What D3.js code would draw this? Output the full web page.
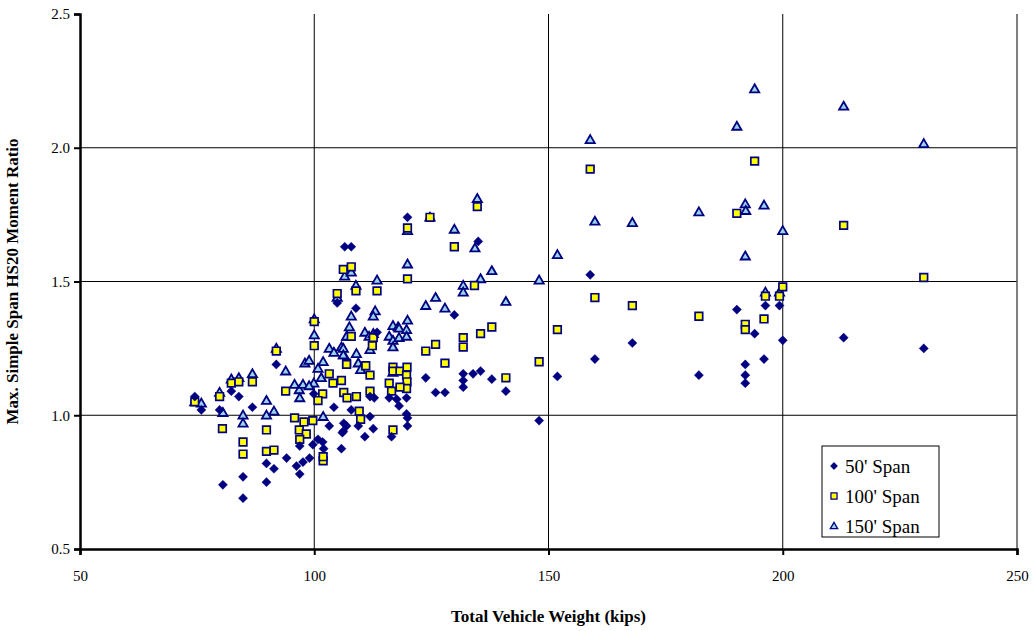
<!DOCTYPE html>
<html>
<head>
<meta charset="utf-8">
<script src="https://cdn.jsdelivr.net/npm/d3@7"></script>
<style>
  body { margin: 0; background: #fff; }
  text { font-family: "Liberation Serif", "Times New Roman", serif; }
</style>
</head>
<body>
<div id="vis"></div>
<script>
// series data: [total vehicle weight (kips), moment ratio]
var span50 = [
  [74.5,1.07],[75.9,1.02],[79.8,1.02],[82.3,1.09],[83.9,1.07],[86.8,1.03],[91.9,1.19],[89.8,0.82],[91.4,0.80],
  [84.8,0.77],[80.5,0.74],[89.8,0.75],[84.8,0.69],
  [99.9,1.08],[104.2,1.03],[103.2,0.96],[106.3,0.97],[106.0,0.935],[100.8,0.91],[101.8,0.90],[102.0,0.875],
  [99.7,0.89],[105.8,0.875],[96.9,0.885],[99.0,0.84],[97.6,0.825],[96.2,0.81],[94.1,0.84],[96.9,0.78],
  [106.5,1.63],[107.9,1.63],[104.9,1.42],[108.9,1.40],[119.9,1.74],[113.4,1.31],
  [123.8,1.14],[111.9,1.07],[112.8,1.065],[116.0,1.065],[117.6,1.06],[119.7,1.065],[118.1,1.035],[107.9,1.02],
  [109.4,0.96],[106.9,0.96],[111.9,0.995],[112.6,0.95],[110.8,0.92],[106.2,0.94],[119.7,1.005],[119.9,0.99],
  [119.9,0.96],[116.5,0.92],
  [135.0,1.65],[129.9,1.375],[131.8,1.155],[131.8,1.13],[131.8,1.105],[133.9,1.155],[135.5,1.165],[137.9,1.135],
  [125.9,1.085],[127.9,1.085],[140.9,1.09],[148.0,0.98],
  [158.9,1.525],[167.9,1.27],[159.9,1.21],[151.9,1.145],
  [190.2,1.395],[196.3,1.41],[199.3,1.41],[194.0,1.305],[200.0,1.28],[192.0,1.19],[196.0,1.21],[192.0,1.15],
  [192.0,1.12],[182.1,1.15],
  [213.0,1.29],[230.1,1.25]
];
var span100 = [
  [74.5,1.05],[82.3,1.12],[83.9,1.125],[86.8,1.125],[79.8,1.07],[80.4,0.95],[89.8,0.945],[84.8,0.90],[84.8,0.855],
  [89.8,0.865],[91.4,0.87],[91.9,1.24],
  [100.0,1.35],[100.0,1.26],[103.2,1.155],[104.0,1.12],[105.8,1.13],[106.9,1.195],[106.3,1.085],[107.0,1.065],
  [101.8,1.08],[100.8,1.055],[93.9,1.09],
  [95.8,0.99],[97.8,0.975],[99.7,0.98],[96.8,0.945],[98.3,0.93],[96.9,0.91],[101.9,0.83],[101.9,0.845],
  [106.2,1.545],[107.9,1.555],[104.9,1.455],[108.9,1.465],[113.4,1.465],[119.9,1.70],[124.7,1.74],[119.9,1.51],
  [107.9,1.295],[112.6,1.29],[112.4,1.26],[106.9,1.19],[111.0,1.185],[111.9,1.15],[109.0,1.07],[111.9,1.09],
  [116.8,1.18],[116.8,1.165],[118.3,1.165],[119.8,1.18],[119.7,1.15],[119.8,1.125],[119.7,1.10],[116.0,1.12],
  [116.5,1.09],[118.3,1.105],[123.8,1.24],[109.6,1.015],[109.9,0.985],[116.8,0.945],
  [134.8,1.78],[129.9,1.63],[134.2,1.485],[137.9,1.33],[135.5,1.305],[131.8,1.29],[131.8,1.255],[125.9,1.265],
  [127.9,1.195],[148.0,1.20],[140.9,1.14],
  [158.9,1.92],[159.9,1.44],[167.9,1.41],[151.9,1.32],
  [194.0,1.95],[190.2,1.755],[200.0,1.48],[196.3,1.445],[199.3,1.445],[182.1,1.37],[192.0,1.34],[192.0,1.32],
  [196.0,1.36],
  [213.0,1.71],[230.1,1.515]
];
var span150 = [
  [74.5,1.05],[75.9,1.045],[79.8,1.085],[80.5,1.01],[82.3,1.135],[83.9,1.14],[86.8,1.155],[89.8,1.055],[89.8,1.0],
  [91.4,1.015],[84.8,1.0],[84.8,0.97],[91.9,1.25],
  [100.0,1.36],[100.0,1.30],[93.9,1.165],[98.0,1.195],[98.9,1.205],[101.9,1.20],[103.2,1.25],[104.2,1.235],
  [105.8,1.255],[106.3,1.225],[107.0,1.295],[100.8,1.175],[99.9,1.12],[101.5,1.14],[95.8,1.115],[96.8,1.095],
  [97.6,1.115],[96.9,1.065],[98.9,1.11],[101.9,0.995],
  [106.5,1.52],[107.9,1.535],[104.9,1.44],[108.9,1.485],[113.4,1.505],[119.9,1.69],[124.7,1.74],[119.9,1.565],
  [123.8,1.41],[107.9,1.37],[113.0,1.39],[112.6,1.37],[116.8,1.335],[117.9,1.33],[119.9,1.355],[107.5,1.33],
  [106.9,1.295],[110.8,1.31],[111.7,1.295],[112.6,1.305],[111.9,1.245],[109.0,1.23],[109.4,1.195],[109.9,1.17],
  [106.2,1.25],[106.2,1.225],[118.1,1.325],[119.7,1.32],[116.0,1.295],[116.8,1.28],[118.1,1.29],[119.7,1.295],
  [116.8,1.255],[116.8,1.16],
  [134.8,1.81],[129.9,1.695],[134.3,1.625],[137.9,1.54],[135.5,1.51],[148.0,1.505],[131.8,1.485],[131.8,1.46],
  [125.9,1.44],[127.9,1.40],[140.9,1.425],
  [158.9,2.03],[159.9,1.725],[167.9,1.72],[151.9,1.60],
  [194.0,2.22],[190.2,2.08],[192.0,1.79],[192.1,1.765],[196.0,1.785],[182.1,1.76],[200.0,1.69],[192.0,1.595],
  [196.3,1.46],[199.3,1.46],
  [213.0,2.155],[230.1,2.015]
];

var xTicks = [50, 100, 150, 200, 250];
var yTicks = [0.5, 1.0, 1.5, 2.0, 2.5];
var legendLabels = ["50' Span", "100' Span", "150' Span"];

var margin = {top: 14, right: 19, bottom: 82, left: 80};
var W = 1036, H = 631;
var width = W - margin.left - margin.right;
var height = H - margin.top - margin.bottom;

var x = d3.scaleLinear().domain([50, 250]).range([0, width]);
var y = d3.scaleLinear().domain([0.5, 2.5]).range([height, 0]);

var svg = d3.select("#vis").append("svg")
    .attr("width", W)
    .attr("height", H)
  .append("g")
    .attr("transform", "translate(" + margin.left + "," + margin.top + ")");

// gridlines
svg.append("g").selectAll("line")
  .data(xTicks.slice(1, -1))
  .enter().append("line")
    .attr("x1", function(d) { return x(d); })
    .attr("x2", function(d) { return x(d); })
    .attr("y1", 0).attr("y2", height)
    .attr("stroke", "#000").attr("stroke-width", 1);
svg.append("g").selectAll("line")
  .data(yTicks.slice(1, -1))
  .enter().append("line")
    .attr("y1", function(d) { return y(d); })
    .attr("y2", function(d) { return y(d); })
    .attr("x1", 0).attr("x2", width)
    .attr("stroke", "#000").attr("stroke-width", 1);

// right border
svg.append("line")
  .attr("x1", width).attr("x2", width)
  .attr("y1", 0).attr("y2", height)
  .attr("stroke", "#555").attr("stroke-width", 1.5);

// axes
var xAxis = svg.append("g")
    .attr("transform", "translate(0," + height + ")")
    .call(d3.axisBottom(x).tickValues(xTicks).tickSize(6).tickPadding(15).tickFormat(d3.format("d")));
var yAxis = svg.append("g")
    .call(d3.axisLeft(y).tickValues(yTicks).tickSize(6).tickPadding(4).tickFormat(d3.format(".1f")));
[xAxis, yAxis].forEach(function(a) {
  a.select(".domain").attr("stroke", "#000").attr("stroke-width", 2.5);
  a.selectAll(".tick line").attr("stroke", "#000").attr("stroke-width", 2);
  a.selectAll("text").attr("font-size", 15).attr("font-family", "Liberation Serif").attr("fill", "#000");
});

// markers (custom shapes, Excel-like)
function diamond() { return "M0,-4.6L4.6,0L0,4.6L-4.6,0Z"; }
function square() { return "M-3.8,-3.8H3.8V3.8H-3.8Z"; }
function triangle() { return "M0,-4.6L4.6,3.4H-4.6Z"; }

function plot(data, sym, fill, stroke, sw) {
  svg.append("g").selectAll("path")
    .data(data)
    .enter().append("path")
      .attr("d", sym)
      .attr("transform", function(d) { return "translate(" + x(d[0]) + "," + y(d[1]) + ")"; })
      .attr("fill", fill)
      .attr("stroke", stroke)
      .attr("stroke-width", sw)
      .attr("stroke-linejoin", "miter");
}
plot(span150, triangle, "#99d3e8", "#000080", 1.8);
plot(span100, square, "#ffff00", "#000080", 1.7);
plot(span50, diamond, "#000080", "#000080", 0.4);

// legend
var lg = svg.append("g").attr("transform", "translate(" + (822 - margin.left) + "," + (446 - margin.top) + ")");
lg.append("rect").attr("width", 117).attr("height", 91)
  .attr("fill", "#fff").attr("stroke", "#000").attr("stroke-width", 1);
var syms = [
  {s: diamond, f: "#000080", w: 0.4},
  {s: square, f: "#ffff00", w: 1.6},
  {s: triangle, f: "#99d3e8", w: 1.6}
];
legendLabels.forEach(function(t, i) {
  var cy = 20 + i * 30;
  lg.append("path").attr("d", syms[i].s)
    .attr("transform", "translate(12," + cy + ") scale(0.8)")
    .attr("fill", syms[i].f).attr("stroke", "#000080").attr("stroke-width", syms[i].w);
  lg.append("text").attr("x", 23).attr("y", cy + 7)
    .attr("font-size", 19).text(t);
});

// axis titles
svg.append("text")
  .attr("x", width / 2).attr("y", height + 73)
  .attr("text-anchor", "middle")
  .attr("font-size", 17).attr("font-weight", "bold")
  .text("Total Vehicle Weight (kips)");
svg.append("text")
  .attr("transform", "translate(" + (-62) + "," + (height / 2) + ") rotate(-90)")
  .attr("text-anchor", "middle")
  .attr("font-size", 17).attr("font-weight", "bold")
  .text("Max. Simple Span HS20 Moment Ratio");
</script>
</body>
</html>
